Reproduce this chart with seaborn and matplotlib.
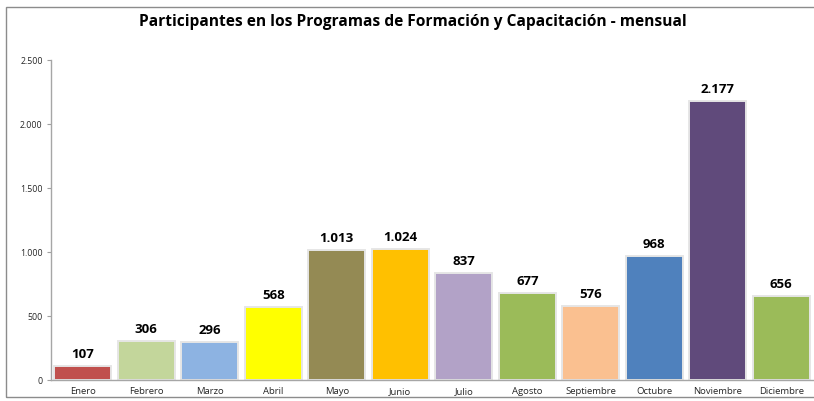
import matplotlib
matplotlib.use("Agg")
import matplotlib.pyplot as plt
import seaborn as sns
import pandas as pd
from matplotlib.patches import Rectangle
from matplotlib.ticker import FuncFormatter

meses = ["Enero", "Febrero", "Marzo", "Abril", "Mayo", "Junio", "Julio",
         "Agosto", "Septiembre", "Octubre", "Noviembre", "Diciembre"]
participantes = [107, 306, 296, 568, 1013, 1024, 837, 677, 576, 968, 2177, 656]
colores = ["#C0504D", "#C3D69B", "#8DB3E2", "#FFFF00", "#948A54", "#FFC000",
           "#B2A2C7", "#9BBB59", "#FAC090", "#4F81BD", "#604A7B", "#9BBB59"]
titulo = "Participantes en los Programas de Formación y Capacitación - mensual"
y_ticks = [0, 500, 1000, 1500, 2000, 2500]

sns.set_theme(style="white")
plt.rcParams["font.family"] = ["Open Sans", "DejaVu Sans"]

df = pd.DataFrame({"mes": meses, "valor": participantes})

fig = plt.figure(figsize=(8.14, 4.01), dpi=100)
ax = fig.add_axes([51 / 814, 1 - 380 / 401, 762 / 814, 320 / 401])

sns.barplot(data=df, x="mes", y="valor", hue="mes", palette=colores,
            legend=False, width=0.9, edgecolor="#E6E6E6", linewidth=1.4,
            saturation=1, ax=ax)


def miles(v, pos=None):
    return f"{int(v):,}".replace(",", ".")


for patch, val in zip(ax.patches, participantes):
    ax.text(patch.get_x() + patch.get_width() / 2, val + 40, miles(val),
            ha="center", va="bottom", fontsize=9.5, fontweight="bold",
            color="black")

ax.set_ylim(0, 2500)
ax.set_xlim(-0.5, 11.5)
ax.set_yticks(y_ticks)
ax.yaxis.set_major_formatter(FuncFormatter(miles))
ax.set_xlabel("")
ax.set_ylabel("")
ax.tick_params(axis="y", labelsize=6.3, length=3, color="#A0A0A0",
               left=True, pad=3, width=0.8)
ax.tick_params(axis="x", labelsize=6.8, length=0, pad=5)
for side in ("top", "right"):
    ax.spines[side].set_visible(False)
for side in ("left", "bottom"):
    ax.spines[side].set_color("#A6A6A6")
    ax.spines[side].set_linewidth(1.0)

fig.text(413 / 814, 1 - 22 / 401, titulo, ha="center", va="center",
         fontsize=11.2, fontweight="bold", color="black")

# outer chart frame
fig.patches.append(Rectangle((6 / 814, 4 / 401), 820 / 814, 390 / 401,
                             transform=fig.transFigure, fill=False,
                             edgecolor="#8C8C8C", linewidth=1.0))

fig.savefig("out.png", dpi=100)
